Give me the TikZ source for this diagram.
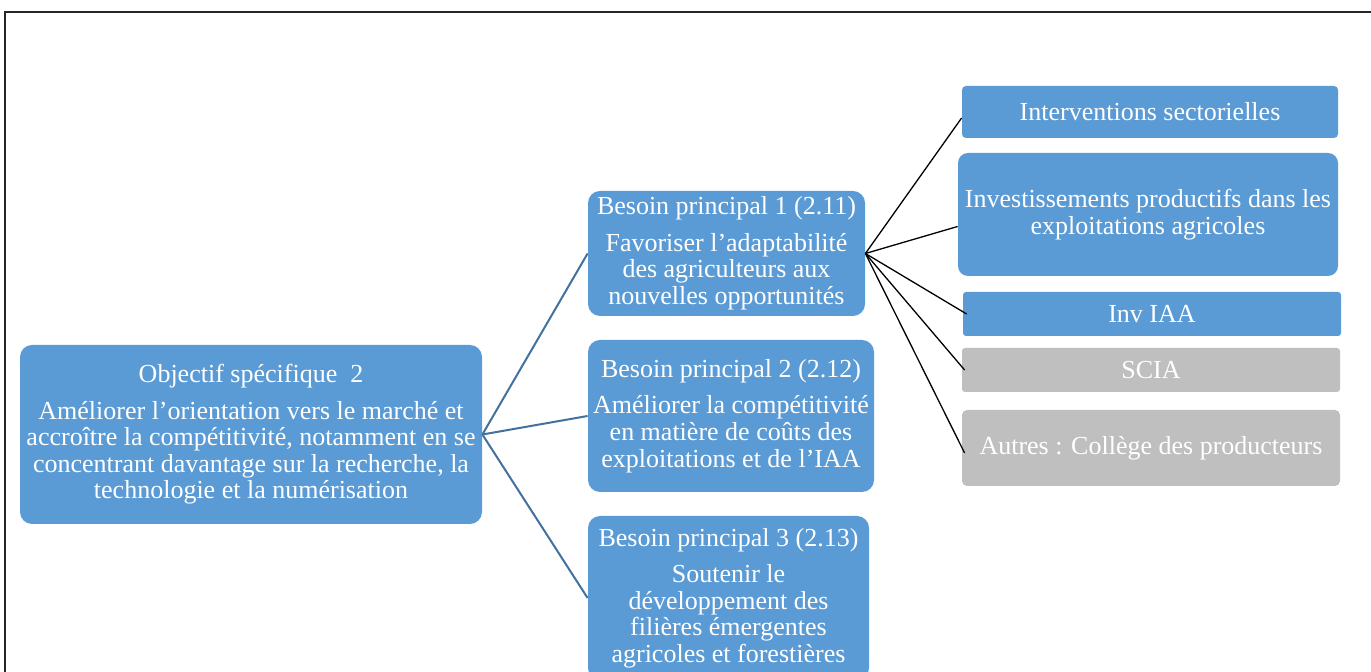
\documentclass[tikz,border=0pt]{standalone}
\usepackage{fontspec}
\setmainfont{Liberation Serif}
\definecolor{needblue}{HTML}{5B9BD5}
\definecolor{linkblue}{HTML}{41719C}
\definecolor{othergrey}{HTML}{BFBFBF}
\begin{document}
\begin{tikzpicture}[
          x=0.5pt, y=-0.5pt,
          every node/.style={text=white, align=center,
                             font=\fontsize{13}{13.3}\selectfont, inner sep=0pt},
          bigbox/.style={fill=needblue, rounded corners=6pt},
          bluebox/.style={fill=needblue, rounded corners=2pt},
          greybox/.style={fill=othergrey, rounded corners=2pt},
          blueline/.style={draw=linkblue, line width=1pt},
          blackline/.style={draw=black, line width=0.65pt}]
            \useasboundingbox (0,0) rectangle (1371,672);
            \clip (0,0) rectangle (1371,672);
            \draw[line width=0.8pt, black!85] (5,12) rectangle (1390,700);

            \node[bigbox, minimum width=231pt, minimum height=89.5pt] (obj) at (251,434.5)
              {Objectif spécifique\ \ 2\\[4.9pt]
               Améliorer l’orientation vers le marché et\\
               accroître la compétitivité, notamment en se\\
               concentrant davantage sur la recherche, la\\
               technologie et la numérisation};

            \node[bigbox, minimum width=138.5pt, minimum height=62.5pt] (b1) at (726.5,253.5)
              {Besoin principal 1 (2.11)\\[4.9pt]
               Favoriser l’adaptabilité\\
               des agriculteurs aux\\
               nouvelles opportunités};
            \node[bigbox, minimum width=143pt, minimum height=76pt] (b2) at (731,416)
              {Besoin principal 2 (2.12)\\[4.9pt]
               Améliorer la compétitivité\\
               en matière de coûts des\\
               exploitations et de l’IAA};
            \node[bigbox, minimum width=140.5pt, minimum height=82pt] (b3) at (728.5,598)
              {Besoin principal 3 (2.13)\\[4.9pt]
               Soutenir le\\
               développement des\\
               filières émergentes\\
               agricoles et forestières};

            \node[bluebox, minimum width=188pt, minimum height=26pt] (inter) at (1150,112)
              {Interventions sectorielles};
            \node[bigbox, rounded corners=5pt, minimum width=190pt, minimum height=61.5pt] (invest) at (1148,214.5)
              {Investissements productifs dans les\\
               exploitations agricoles};
            \node[bluebox, rounded corners=1.5pt, minimum width=189pt, minimum height=22pt] (iaa) at (1152,314)
              {Inv IAA};
            \node[greybox, rounded corners=1.5pt, minimum width=189pt, minimum height=22pt] (scia) at (1151,370)
              {SCIA};
            \node[greybox, rounded corners=2.5pt, minimum width=189pt, minimum height=38pt] (autres) at (1151,448)
              {Autres : Collège des producteurs};

            \foreach \n in {b1, b2, b3}
              \draw[blueline] (obj.east) -- (\n.west);
            \draw[blackline] (b1.east) -- ([yshift=-3pt]inter.west);
            \draw[blackline] (b1.east) -- ([yshift=-6pt]invest.west);
            \draw[blackline] (b1.east) -- ([xshift=2pt]iaa.west);
            \draw[blackline] (b1.east) -- ([xshift=1.5pt]scia.west);
            \draw[blackline] (b1.east) -- ([xshift=1.5pt,yshift=-2.5pt]autres.west);
          \end{tikzpicture}
\end{document}
